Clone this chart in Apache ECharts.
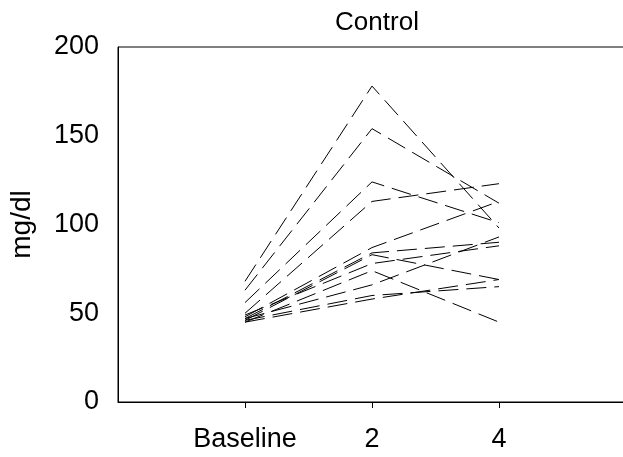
<!DOCTYPE html>
<html>
<head>
<meta charset="utf-8">
<script src="https://cdn.jsdelivr.net/npm/echarts@6/dist/echarts.min.js"></script>
<style>
  html, body { margin: 0; padding: 0; background: #fff; }
  #chart { width: 623px; height: 457px; }
</style>
</head>
<body>
<div id="chart"></div>
<script>
// time points (empty slots keep the outer padding of the x axis)
const categories = ['', 'Baseline', '2', '4', '']
const yTicks = [0, 50, 100, 150, 200]

// one value per subject at each time point
const baseline = [68, 63, 56, 50, 48, 47, 46, 49, 45, 47, 46, 45]
const week2 = [178, 154, 124, 113, 87, 84, 83, 78, 74, 66, 60, 58]
const week4 = [98, 112, 101, 123, 113, 90, 69, 88, 45, 93, 65, 69]

const chart = echarts.init(document.getElementById('chart'))
const font = 'Liberation Sans, Arial, sans-serif'

const series = baseline.map((b, i) => {
  return {
    type: 'line',
    symbol: 'none',
    silent: true,
    lineStyle: {
      color: '#000',
      width: 1,
      type: [20, 8], // long dashes
    },
    data: [
      ['Baseline', b],
      ['2', week2[i]],
      ['4', week4[i]],
    ],
  }
})

const options = {
  animation: false,
  title: {
    text: 'Control',
    left: 372,
    top: 5,
    textAlign: 'center',
    textStyle: {
      fontFamily: font,
      fontSize: 26,
      fontWeight: 'normal',
      color: '#000',
    },
  },
  grid: {
    left: 118,
    top: 47,
    width: 508,
    height: 355,
    outerBoundsMode: 'none',
    show: true,
    borderColor: '#000',
    borderWidth: 1,
  },
  xAxis: {
    type: 'category',
    data: categories,
    boundaryGap: false,
    axisLine: { lineStyle: { color: '#000', width: 1 } },
    axisTick: {
      length: 6,
      interval: (idx) => idx > 0 && idx < categories.length - 1,
      lineStyle: { color: '#000' },
    },
    axisLabel: {
      interval: 0,
      margin: 24,
      fontFamily: font,
      fontSize: 27,
      color: '#000',
    },
    splitLine: { show: false },
  },
  yAxis: {
    type: 'value',
    min: yTicks[0],
    max: yTicks[yTicks.length - 1],
    interval: 50,
    name: 'mg/dl',
    nameLocation: 'middle',
    nameGap: 82,
    nameTextStyle: {
      fontFamily: font,
      fontSize: 28,
      color: '#000',
    },
    axisLine: { show: true, lineStyle: { color: '#000', width: 1 } },
    axisTick: { show: false },
    axisLabel: {
      margin: 19,
      fontFamily: font,
      fontSize: 27,
      color: '#000',
    },
    splitLine: { show: false },
  },
  series: series,
}
chart.setOption(options)
</script>
</body>
</html>
